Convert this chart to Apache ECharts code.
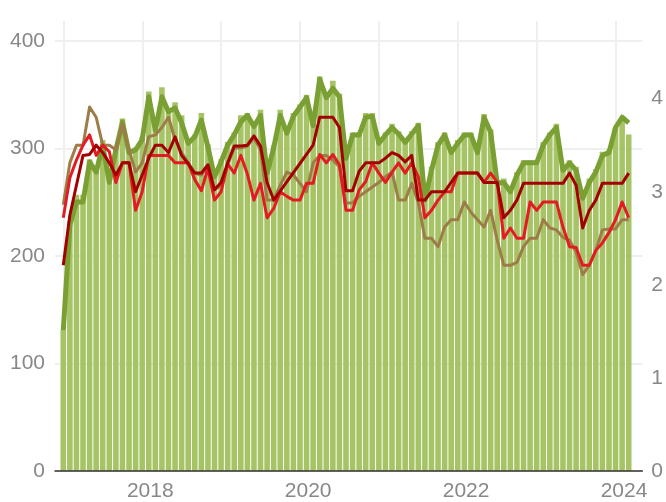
<!DOCTYPE html>
<html>
<head>
<meta charset="utf-8">
<script src="https://cdn.jsdelivr.net/npm/echarts@6/dist/echarts.min.js"></script>
<style>
html, body { margin: 0; padding: 0; background: #fff; }
#main { width: 666px; height: 502px; }
</style>
</head>
<body>
<div id="main"></div>
<script>
// monthly categories, 2017-01 .. 2024-03
const months = [];
for (let y = 2017; y <= 2024; y++) {
    for (let m = 1; m <= 12; m++) {
        if (y === 2024 && m > 3) break;
        months.push(y + '-' + String(m).padStart(2, '0'));
    }
}

// bars (left axis)
const barValues = [
    131, 232, 257, 257, 290, 281, 308, 272, 301, 328,
    299, 301, 311, 353, 320, 357, 337, 343, 331, 308,
    313, 333, 304, 276, 290, 306, 315, 331, 333, 324,
    336, 280, 303, 336, 317, 333, 341, 350, 324, 367,
    350, 363, 351, 294, 315, 315, 333, 333, 308, 315,
    323, 316, 309, 316, 324, 255, 283, 306, 315, 299,
    308, 315, 315, 299, 332, 318, 271, 272, 262, 278,
    289, 289, 289, 306, 315, 323, 283, 289, 283, 257,
    272, 281, 297, 299, 319, 327, 313
];

// lines (right axis)
const greenLine = [
    1.51, 2.64, 2.89, 2.89, 3.32, 3.21, 3.50, 3.10, 3.45, 3.75,
    3.42, 3.45, 3.56, 4.02, 3.66, 4.02, 3.86, 3.90, 3.74, 3.52,
    3.59, 3.77, 3.48, 3.16, 3.32, 3.50, 3.61, 3.75, 3.82, 3.70,
    3.82, 3.20, 3.47, 3.82, 3.63, 3.81, 3.91, 4.01, 3.71, 4.21,
    4.01, 4.11, 4.02, 3.36, 3.61, 3.61, 3.80, 3.81, 3.52, 3.61,
    3.69, 3.62, 3.53, 3.62, 3.71, 2.91, 3.23, 3.50, 3.61, 3.42,
    3.52, 3.61, 3.61, 3.42, 3.80, 3.64, 3.09, 3.10, 3.00, 3.18,
    3.31, 3.31, 3.31, 3.50, 3.61, 3.69, 3.23, 3.31, 3.23, 2.93,
    3.10, 3.21, 3.39, 3.42, 3.69, 3.80, 3.74
];
const brownLine = [
    2.86, 3.31, 3.50, 3.50, 3.91, 3.80, 3.50, 3.50, 3.45, 3.73,
    3.45, 3.21, 3.31, 3.59, 3.61, 3.69, 3.80, 3.56, 3.42, 3.31,
    3.20, 3.18, 3.27, 3.02, 3.07, 3.29, 3.47, 3.47, 3.49, 3.58,
    3.45, 2.91, 2.91, 3.07, 3.21, 3.18, 3.09, 3.00, 3.31, 3.39,
    3.39, 3.34, 3.27, 2.88, 2.88, 2.95, 3.00, 3.05, 3.10, 3.16,
    3.21, 2.91, 2.91, 3.09, 2.88, 2.50, 2.50, 2.41, 2.62, 2.70,
    2.70, 2.89, 2.78, 2.70, 2.62, 2.80, 2.48, 2.21, 2.21, 2.24,
    2.41, 2.50, 2.50, 2.70, 2.61, 2.59, 2.51, 2.48, 2.35, 2.11,
    2.21, 2.37, 2.59, 2.60, 2.60, 2.70, 2.70
];
const darkRedLine = [
    2.21, 2.75, 3.07, 3.39, 3.40, 3.50, 3.42, 3.31, 3.18, 3.31,
    3.31, 3.00, 3.18, 3.36, 3.50, 3.50, 3.42, 3.59, 3.39, 3.30,
    3.20, 3.20, 3.29, 3.02, 3.10, 3.31, 3.49, 3.49, 3.50, 3.60,
    3.49, 3.10, 2.91, null, null, null, null, null, 3.50, 3.80,
    3.80, 3.80, 3.69, 3.01, 3.01, 3.22, 3.31, 3.31, 3.31, 3.36,
    3.42, 3.39, 3.32, 3.39, 2.91, 2.91, 3.00, 3.00, 3.00, 3.10,
    3.20, 3.20, 3.20, 3.20, 3.10, 3.10, 3.10, 2.72, 2.80, 2.91,
    3.09, 3.09, 3.09, 3.09, 3.09, 3.09, 3.09, 3.20, 3.07, 2.61,
    2.80, 2.91, 3.09, 3.09, 3.09, 3.09, 3.20
];
const redLine = [
    2.72, 3.15, 3.34, 3.50, 3.61, 3.39, 3.50, 3.43, 3.10, 3.31,
    3.31, 2.80, 3.00, 3.39, 3.39, 3.39, 3.39, 3.31, 3.31, 3.31,
    3.13, 3.01, 3.25, 2.91, 3.00, 3.30, 3.20, 3.39, 3.19, 2.91,
    3.09, 2.72, 2.82, 3.00, 2.95, 2.91, 2.91, 3.09, 3.09, 3.40,
    3.31, 3.40, 3.29, 2.80, 2.80, 3.02, 3.11, 3.31, 3.20, 3.10,
    3.21, 3.31, 3.20, 3.31, 3.16, 2.72, 2.80, 2.91, 3.00, 3.00,
    3.20, 3.20, 3.20, 3.20, 3.10, 3.20, 3.10, 2.50, 2.61, 2.50,
    2.50, 2.89, 2.80, 2.89, 2.89, 2.89, 2.62, 2.41, 2.40, 2.21,
    2.21, 2.37, 2.45, 2.56, 2.70, 2.89, 2.72
];

const leftMax = 400;
const rightMax = 4.619;
const labelFont = { color: '#888', fontSize: 21, fontFamily: 'Liberation Sans, sans-serif' };
const gridColor = '#efefef';

const lineSeries = (name, data, color, width, z) => ({
    name: name,
    type: 'line',
    xAxisIndex: 1,
    yAxisIndex: 3,
    data: data,
    showSymbol: false,
    connectNulls: true,
    z: z,
    lineStyle: { color: color, width: width, join: 'round' }
});

const chart = echarts.init(document.getElementById('main'));
chart.setOption({
    animation: false,
    grid: [
        // axes + horizontal gridlines
        { left: 55, right: 23, top: 41, bottom: 31 },
        // bars and lines
        { left: 60, right: 34, top: 41, bottom: 31 },
        // vertical gridlines and year labels, on bar centres
        { left: 63.3, right: 36.8, top: 21, bottom: 31 }
    ],
    xAxis: [
        {
            gridIndex: 0, type: 'value', min: 0, max: 1, z: 10,
            axisLine: { show: true, onZero: false, lineStyle: { color: '#333', width: 1.5 } },
            axisTick: { show: false }, axisLabel: { show: false }, splitLine: { show: false }
        },
        {
            gridIndex: 1, type: 'category', data: months, boundaryGap: true,
            axisLine: { show: false }, axisTick: { show: false },
            axisLabel: { show: false }, splitLine: { show: false }
        },
        {
            gridIndex: 2, type: 'category', data: months, boundaryGap: false,
            axisLine: { show: false }, axisTick: { show: false },
            axisLabel: Object.assign({
                interval: (i) => i % 24 === 12,
                formatter: (v) => v.slice(0, 4),
                margin: 10,
                padding: [0, 0, 0, 16]
            }, labelFont),
            splitLine: {
                show: true,
                interval: (i) => i % 12 === 0,
                lineStyle: { color: gridColor, width: 2 }
            }
        }
    ],
    yAxis: [
        {
            gridIndex: 0, type: 'value', min: 0, max: leftMax, interval: 100,
            axisLine: { show: false }, axisTick: { show: false },
            axisLabel: Object.assign({ margin: 10 }, labelFont),
            splitLine: { show: true, lineStyle: { color: gridColor, width: 2 } }
        },
        {
            gridIndex: 0, type: 'value', position: 'right', min: 0, max: rightMax, interval: 1,
            axisLine: { show: false }, axisTick: { show: false },
            axisLabel: Object.assign({ margin: 9, showMaxLabel: false }, labelFont),
            splitLine: { show: false }
        },
        { gridIndex: 1, type: 'value', min: 0, max: leftMax, show: false },
        { gridIndex: 1, type: 'value', min: 0, max: rightMax, show: false },
        { gridIndex: 2, type: 'value', min: 0, max: 1, show: false }
    ],
    series: [
        {
            name: 'bars',
            type: 'bar',
            xAxisIndex: 1,
            yAxisIndex: 2,
            data: barValues,
            barCategoryGap: '15%',
            itemStyle: { color: '#a6c466' }
        },
        lineSeries('green', greenLine, '#7a9f33', 5, 3),
        lineSeries('brown', brownLine, '#9d7c48', 3, 4),
        lineSeries('red', redLine, '#e31b23', 3, 5),
        lineSeries('darkred', darkRedLine, '#a30000', 3, 6)
    ]
});
</script>
</body>
</html>
